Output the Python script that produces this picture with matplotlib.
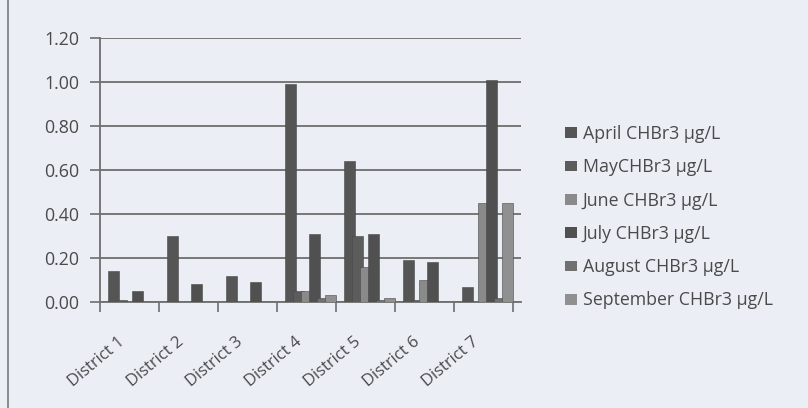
import matplotlib.pyplot as plt
from matplotlib.patches import Patch
from matplotlib.lines import Line2D
from matplotlib.transforms import ScaledTranslation
import numpy as np

plt.rcParams['font.family'] = ['Open Sans', 'DejaVu Sans']

districts = ['District 1', 'District 2', 'District 3', 'District 4',
             'District 5', 'District 6', 'District 7']
series_names = ['April CHBr3 μg/L', 'MayCHBr3 μg/L', 'June CHBr3 μg/L',
                'July CHBr3 μg/L', 'August CHBr3 μg/L', 'September CHBr3 μg/L']

april = [0.14, 0.30, 0.12, 0.99, 0.64, 0.19, 0.07]
may = [0.01, 0.00, 0.00, 0.05, 0.30, 0.01, 0.00]
june = [0.00, 0.00, 0.00, 0.05, 0.16, 0.10, 0.45]
july = [0.05, 0.08, 0.09, 0.31, 0.31, 0.18, 1.01]
august = [0.00, 0.00, 0.00, 0.02, 0.01, 0.00, 0.02]
september = [0.00, 0.00, 0.00, 0.03, 0.02, 0.00, 0.45]

y_ticks = [0.0, 0.2, 0.4, 0.6, 0.8, 1.0, 1.2]

colors = ['#555555', '#5c5c5c', '#8a8a8a', '#505050', '#707070', '#909090']
bg = '#ebeef5'
ink = '#4a4a4a'

fig = plt.figure(figsize=(8.08, 4.08), dpi=100, facecolor=bg)
ax = fig.add_axes([100 / 808, 106 / 408, 421 / 808, 264 / 408])
ax.set_facecolor(bg)

x = np.arange(len(districts))
step, width = 0.136, 0.186
for k, (vals, col) in enumerate(zip([april, may, june, july, august, september], colors)):
    ax.bar(x - 0.271 + step * k, vals, width=width, color=col,
           edgecolor='#484848', linewidth=0.4, zorder=3)

ax.set_xlim(-0.5, -0.5 + 421 / 59)
ax.set_ylim(0, 1.2)
ax.set_yticks(y_ticks)
ax.set_yticklabels([f'{v:.2f}' for v in y_ticks], fontsize=12.8, color=ink)
ax.yaxis.grid(True, color='#6e6e6e', linewidth=1.3, zorder=0)
ax.tick_params(axis='y', length=7, width=1.2, color='#6e6e6e', pad=8)

# category boundary ticks on the floor, labels placed separately
ax.set_xticks(np.arange(-0.5, 7, 1.0))
ax.set_xticklabels([])
ax.tick_params(axis='x', length=7, width=1.2, color='#6e6e6e', direction='out')

for side in ['top', 'right']:
    ax.spines[side].set_visible(False)
for side in ['left', 'bottom']:
    ax.spines[side].set_color('#6e6e6e')
    ax.spines[side].set_linewidth(1.3)

shift = ScaledTranslation(-12 / 100, -32 / 100, fig.dpi_scale_trans)
for i, name in enumerate(districts):
    ax.text(i, 0, name, rotation=40, ha='right', va='top', fontsize=12,
            color=ink, transform=ax.transData + shift, rotation_mode='anchor')

handles = [Patch(facecolor=c, edgecolor='none') for c in colors]
fig.legend(handles, series_names, loc='upper left',
           bbox_to_anchor=(549 / 808, 1 - 109 / 408), frameon=False,
           fontsize=12.8, labelcolor=ink, handlelength=0.65, handleheight=0.55,
           handletextpad=0.35, labelspacing=0.86)

fig.add_artist(Line2D([8 / 808, 8 / 808], [0, 1], transform=fig.transFigure,
                      color='#7a7a7a', linewidth=1.2))

fig.savefig('out.png', dpi=100, facecolor=bg)
